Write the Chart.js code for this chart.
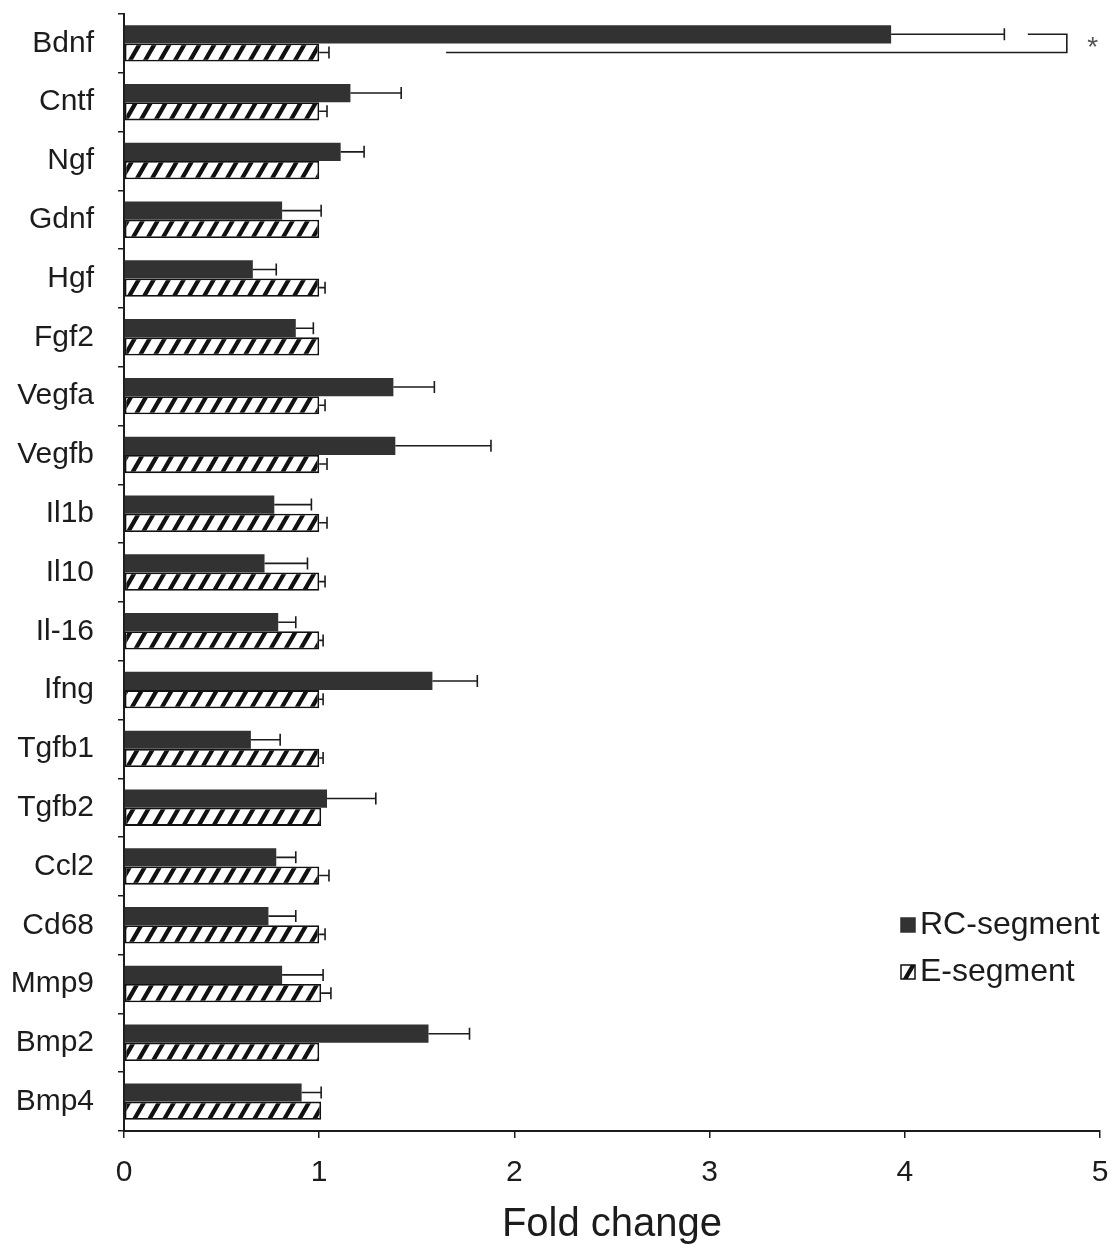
<!DOCTYPE html>
<html>
<head>
<meta charset="utf-8">
<script src="https://cdn.jsdelivr.net/npm/chart.js@4"></script>
<style>
    html, body { margin: 0; padding: 0; background: #fff; }
    #wrap { width: 1112px; height: 1251px; }
</style>
</head>
<body>
<div id="wrap"><canvas id="foldChart" width="1112" height="1251"></canvas></div>
<script>
// genes, top to bottom
const genes = ['Bdnf', 'Cntf', 'Ngf', 'Gdnf', 'Hgf', 'Fgf2', 'Vegfa', 'Vegfb', 'Il1b', 'Il10',
    'Il-16', 'Ifng', 'Tgfb1', 'Tgfb2', 'Ccl2', 'Cd68', 'Mmp9', 'Bmp2', 'Bmp4'];

// RC-segment mean fold change and error (upper half only)
const rcValues = [3.93, 1.16, 1.11, 0.81, 0.66, 0.88, 1.38, 1.39, 0.77, 0.72,
    0.79, 1.58, 0.65, 1.04, 0.78, 0.74, 0.81, 1.56, 0.91];
const rcErrors = [0.58, 0.26, 0.12, 0.20, 0.12, 0.09, 0.21, 0.49, 0.19, 0.22,
    0.09, 0.23, 0.15, 0.25, 0.10, 0.14, 0.21, 0.21, 0.10];

// E-segment (reference) values and errors
const eValues = [1.0, 1.0, 1.0, 1.0, 1.0, 1.0, 1.0, 1.0, 1.0, 1.0,
    1.0, 1.0, 1.0, 1.01, 1.0, 1.0, 1.01, 1.0, 1.01];
const eErrors = [0.05, 0.04, 0, 0, 0.03, 0, 0.03, 0.04, 0.04, 0.03,
    0.02, 0.02, 0.02, 0, 0.05, 0.03, 0.05, 0, 0];

const xTicks = [0, 1, 2, 3, 4, 5];

// significance bracket for Bdnf
const sigIndex = 0;
const sigBottomFrom = 1.65;
const sigTopFrom = 4.63;
const sigRight = 4.83;
const sigMark = '*';

const ink = '#1c1c1c';
const dark = '#323232';
const fontFamily = '"Liberation Sans", Arial, sans-serif';

// steep "/" hatching like the print
function makeHatch() {
    const w = 15, h = 26;
    const c = document.createElement('canvas');
    c.width = w;
    c.height = h;
    const g = c.getContext('2d');
    g.fillStyle = '#fff';
    g.fillRect(0, 0, w, h);
    g.strokeStyle = '#111';
    g.lineWidth = 4.2;
    g.beginPath();
    for (let k = -1; k <= 1; k++) {
        g.moveTo(k * w - 2, h + 3.5);
        g.lineTo(k * w + w + 2, -3.5);
    }
    g.stroke();
    return g.createPattern(c, 'repeat');
}

const hatch = makeHatch();

// error bars drawn to the right of each bar
const errorBars = {
    id: 'errorBars',
    afterDatasetsDraw(chart) {
        const ctx = chart.ctx;
        const xs = chart.scales.x;
        const errs = [rcErrors, eErrors];
        ctx.save();
        ctx.strokeStyle = ink;
        ctx.lineWidth = 1.6;
        chart.data.datasets.forEach((ds, di) => {
            const meta = chart.getDatasetMeta(di);
            meta.data.forEach((bar, i) => {
                const err = errs[di][i];
                if (!err) return;
                const x0 = bar.x;
                const x1 = xs.getPixelForValue(ds.data[i] + err);
                ctx.beginPath();
                ctx.moveTo(x0, bar.y);
                ctx.lineTo(x1, bar.y);
                ctx.moveTo(x1, bar.y - 6);
                ctx.lineTo(x1, bar.y + 6);
                ctx.stroke();
            });
        });
        ctx.restore();
    }
};

// bracket, asterisk and legend
const extras = {
    id: 'extras',
    afterDraw(chart) {
        const ctx = chart.ctx;
        const xs = chart.scales.x;
        const yTop = chart.getDatasetMeta(0).data[sigIndex].y;
        const yBot = chart.getDatasetMeta(1).data[sigIndex].y;
        const xr = xs.getPixelForValue(sigRight);
        ctx.save();
        ctx.strokeStyle = ink;
        ctx.lineWidth = 1.6;
        ctx.beginPath();
        ctx.moveTo(xs.getPixelForValue(sigTopFrom), yTop);
        ctx.lineTo(xr, yTop);
        ctx.lineTo(xr, yBot);
        ctx.lineTo(xs.getPixelForValue(sigBottomFrom), yBot);
        ctx.stroke();
        ctx.fillStyle = '#555';
        ctx.font = '28px ' + fontFamily;
        ctx.textAlign = 'center';
        ctx.textBaseline = 'middle';
        ctx.fillText(sigMark, xr + 26, (yTop + yBot) / 2 + 5);

        // legend
        const lx = 901;
        const items = [
            { text: 'RC-segment', y: 925, fill: dark, border: dark },
            { text: 'E-segment', y: 972, fill: hatch, border: '#111' }
        ];
        ctx.font = '32px ' + fontFamily;
        ctx.textAlign = 'left';
        items.forEach(it => {
            ctx.fillStyle = it.fill;
            ctx.fillRect(lx, it.y - 7, 14, 14);
            ctx.strokeStyle = it.border;
            ctx.lineWidth = 1.5;
            ctx.strokeRect(lx, it.y - 7, 14, 14);
            ctx.fillStyle = ink;
            ctx.fillText(it.text, lx + 19, it.y);
        });
        ctx.restore();
    }
};

new Chart(document.getElementById('foldChart'), {
    type: 'bar',
    data: {
        labels: genes,
        datasets: [
            {
                label: 'RC-segment',
                data: rcValues,
                backgroundColor: dark,
                borderWidth: 0,
                barPercentage: 1,
                categoryPercentage: 0.62
            },
            {
                label: 'E-segment',
                data: eValues,
                backgroundColor: hatch,
                borderColor: '#111',
                borderWidth: 1.8,
                borderSkipped: false,
                barPercentage: 1,
                categoryPercentage: 0.62
            }
        ]
    },
    options: {
        indexAxis: 'y',
        responsive: false,
        animation: false,
        layout: { padding: { top: 14, right: 12, left: 0, bottom: 0 } },
        plugins: {
            legend: { display: false },
            tooltip: { enabled: false }
        },
        scales: {
            x: {
                min: 0,
                max: 5,
                afterBuildTicks: axis => { axis.ticks = xTicks.map(v => ({ value: v })); },
                grid: { drawOnChartArea: false, tickLength: 7, color: ink, lineWidth: 1.5 },
                border: { color: ink, width: 2 },
                ticks: {
                    color: ink,
                    padding: 17,
                    font: { family: fontFamily, size: 30 }
                },
                title: {
                    display: true,
                    text: 'Fold change',
                    color: ink,
                    padding: { top: 0, bottom: 2 },
                    font: { family: fontFamily, size: 40 }
                },
                afterFit: axis => {
                    axis.height = 120;
                    axis.paddingLeft = 0;
                    axis.paddingRight = 0;
                }
            },
            y: {
                grid: { drawOnChartArea: false, tickLength: 6, color: ink, lineWidth: 1.5, offset: true },
                border: { color: ink, width: 2 },
                ticks: {
                    color: ink,
                    padding: 24,
                    font: { family: fontFamily, size: 30 }
                },
                afterFit: axis => {
                    axis.width = 124;
                    axis.paddingTop = 0;
                    axis.paddingBottom = 0;
                }
            }
        }
    },
    plugins: [errorBars, extras]
});
</script>
</body>
</html>
